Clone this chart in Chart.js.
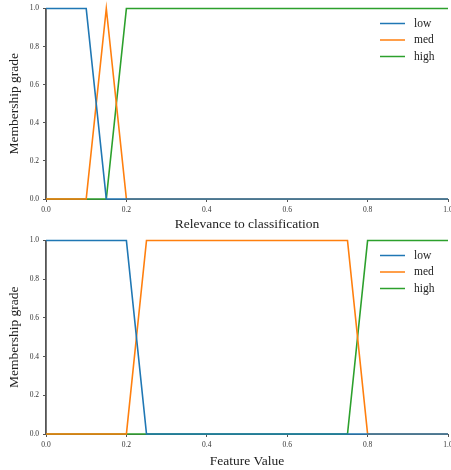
<!DOCTYPE html>
<html>
<head>
<meta charset="utf-8">
<script src="https://cdn.jsdelivr.net/npm/chart.js@4"></script>
<style>
  body { margin: 0; background: #fff; overflow: hidden; }
  .box { position: absolute; left: 0; width: 470px; }
  #top { top: 0; height: 233px; }
  #bottom { top: 232px; height: 238px; }
</style>
</head>
<body>
<div class="box" id="top"><canvas id="chart-top"></canvas></div>
<div class="box" id="bottom"><canvas id="chart-bottom"></canvas></div>
<script>
// membership functions, given as breakpoints [x, y]
const seriesNames = ['low', 'med', 'high'];
const seriesColors = ['#1f77b4', '#ff7f0e', '#2ca02c'];

const relevanceLow = [[0, 1], [0.1, 1], [0.15, 0], [1, 0]];
const relevanceMed = [[0, 0], [0.1, 0], [0.15, 1], [0.2, 0], [1, 0]];
const relevanceHigh = [[0, 0], [0.15, 0], [0.2, 1], [1, 1]];

const featureLow = [[0, 1], [0.2, 1], [0.25, 0], [1, 0]];
const featureMed = [[0, 0], [0.2, 0], [0.25, 1], [0.75, 1], [0.8, 0], [1, 0]];
const featureHigh = [[0, 0], [0.75, 0], [0.8, 1], [1, 1]];

const xTicks = [0, 0.2, 0.4, 0.6, 0.8, 1.0];
const yTicks = [0, 0.2, 0.4, 0.6, 0.8, 1.0];

const serif = '"Liberation Serif", "DejaVu Serif", serif';

// legend drawn inside the plot area, top right
const innerLegend = {
  id: 'innerLegend',
  afterDraw(chart) {
    const ctx = chart.ctx;
    const area = chart.chartArea;
    const x0 = area.right - 68;
    let y = area.top + chart.options.plugins.innerLegend.offset;
    ctx.save();
    ctx.font = '11.5px ' + serif;
    ctx.textBaseline = 'middle';
    chart.data.datasets.forEach(ds => {
      ctx.strokeStyle = ds.borderColor;
      ctx.lineWidth = 1.5;
      ctx.beginPath();
      ctx.moveTo(x0, y);
      ctx.lineTo(x0 + 25, y);
      ctx.stroke();
      ctx.fillStyle = '#222';
      ctx.fillText(ds.label, x0 + 34, y);
      y += 16.5;
    });
    ctx.restore();
  }
};

function makeChart(id, series, xTitle, legendOffset, xTitleHeight) {
  const ctx = document.getElementById(id).getContext('2d');
  return new Chart(ctx, {
    type: 'line',
    data: {
      datasets: series.map((pts, i) => ({
        label: seriesNames[i],
        data: pts.map(p => ({ x: p[0], y: p[1] })),
        borderColor: seriesColors[i],
        borderWidth: 1.6,
        pointRadius: 0,
        tension: 0,
        fill: false,
        clip: false
      }))
    },
    options: {
      responsive: true,
      maintainAspectRatio: false,
      animation: false,
      layout: { padding: { top: 4, right: 22, left: 0, bottom: 0 } },
      plugins: {
        legend: { display: false },
        tooltip: { enabled: false },
        innerLegend: { offset: legendOffset }
      },
      scales: {
        x: {
          type: 'linear',
          min: 0,
          max: 1,
          afterBuildTicks: axis => { axis.ticks = xTicks.map(v => ({ value: v })); },
          afterFit: axis => { axis.height = xTitleHeight; },
          grid: { drawOnChartArea: false, drawTicks: true, tickLength: 3, color: '#555' },
          border: { display: true, color: '#555', width: 1 },
          ticks: {
            font: { family: serif, size: 7.5 },
            color: '#333',
            padding: 4,
            maxRotation: 0,
            callback: v => v.toFixed(1)
          },
          title: {
            display: true,
            text: xTitle,
            font: { family: serif, size: 13.5 },
            color: '#222',
            padding: { top: 3, bottom: 0 }
          }
        },
        y: {
          min: 0,
          max: 1,
          afterBuildTicks: axis => { axis.ticks = yTicks.map(v => ({ value: v })); },
          afterFit: axis => { axis.width = 46; },
          grid: { drawOnChartArea: false, drawTicks: true, tickLength: 3, color: '#555' },
          border: { display: true, color: '#555', width: 1.8 },
          ticks: {
            font: { family: serif, size: 7.5 },
            color: '#333',
            padding: 4,
            callback: v => v.toFixed(1)
          },
          title: {
            display: true,
            text: 'Membership grade',
            font: { family: serif, size: 13.5 },
            color: '#222',
            padding: { top: 6, bottom: 0 }
          }
        }
      }
    },
    plugins: [innerLegend]
  });
}

makeChart('chart-top', [relevanceLow, relevanceMed, relevanceHigh],
  'Relevance to classification', 15, 34);
makeChart('chart-bottom', [featureLow, featureMed, featureHigh],
  'Feature Value', 15, 36);
</script>
</body>
</html>
